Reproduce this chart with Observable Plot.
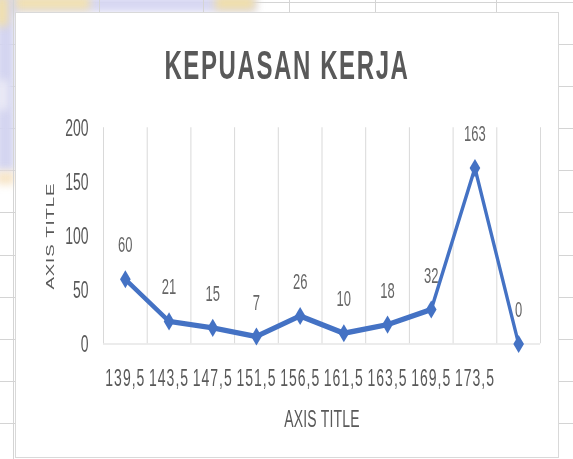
<!DOCTYPE html>
<html><head><meta charset="utf-8">
<script src="https://cdn.jsdelivr.net/npm/d3@7"></script>
<script src="https://cdn.jsdelivr.net/npm/@observablehq/plot@0.6"></script>
<style>
html,body{margin:0;padding:0;width:573px;height:459px;overflow:hidden;background:#fff;}
body{position:relative;}
#sheet{position:absolute;left:0;top:0;width:573px;height:459px;
  background-image:repeating-linear-gradient(to bottom,#d4d4d4 0 1px,transparent 1px 42.1px);
  background-position:0 2px;}
.vl{position:absolute;top:0;width:1px;height:12px;background:#d4d4d4;}
.blob{position:absolute;filter:blur(4px);}
#box{position:absolute;left:15px;top:12px;width:544px;height:446px;border:1px solid #d9d9d9;box-sizing:border-box;background:#fff;}
#title{position:absolute;left:15px;top:45px;width:544px;text-align:center;font-family:'Liberation Sans',Arial,sans-serif;font-weight:bold;font-size:24px;line-height:24px;letter-spacing:1.6px;color:#595959;transform:scaleY(1.69);transform-origin:0 0;white-space:nowrap;}
#chart{position:absolute;left:15px;top:95px;transform:scaleY(1.7);transform-origin:0 0;}
#chart g[aria-label="x-axis tick label"] text{letter-spacing:1px;}
#chart g[aria-label="x-axis label"] text{letter-spacing:0.2px;}
#chart g[aria-label="y-axis label"] text{font-family:'Liberation Sans',Arial,sans-serif;font-size:11px;letter-spacing:0.5px;}
</style></head><body>
<div id="sheet"></div>
<div class="blob" style="left:-4px;top:-4px;width:260px;height:16px;background:#d6d6f2;"></div>
<div class="blob" style="left:10px;top:-4px;width:80px;height:14px;background:#f3e2b0;"></div>
<div class="blob" style="left:215px;top:-4px;width:40px;height:14px;background:#f1dfa8;"></div>
<div class="blob" style="left:-4px;top:-4px;width:19px;height:175px;background:#d3d4f0;"></div>
<div class="blob" style="left:-4px;top:-4px;width:12px;height:30px;background:#f3e0a8;"></div>
<div class="blob" style="left:-4px;top:80px;width:12px;height:30px;background:#ecebf6;"></div>
<div class="blob" style="left:-4px;top:172px;width:19px;height:12px;background:#f6e2c2;"></div>
<div class="vl" style="left:13px;height:459px;"></div>
<div class="vl" style="left:99px"></div>
<div class="vl" style="left:203px"></div>
<div class="vl" style="left:289px"></div>
<div class="vl" style="left:375px"></div>
<div class="vl" style="left:496px"></div>
<div id="box"></div>
<div id="title">KEPUASAN KERJA</div>
<div id="chart"></div>
<script>
const categories = ["139,5","143,5","147,5","151,5","156,5","161,5","163,5","169,5","173,5",""];
const values = [60,21,15,7,26,10,18,32,163,0];
const yTicks = [0,50,100,150,200];
const yTitle = "AXIS TITLE";
const xTitle = "AXIS TITLE";

const data = categories.map((c, i) => ({i, label: c, value: values[i]}));
const boundaries = d3.range(categories.length + 1).map(k => k - 0.5);

const plot = Plot.plot({
  width: 544,
  height: 213,
  marginTop: 19,
  marginBottom: 67,
  marginLeft: 88,
  marginRight: 19,
  style: {fontFamily: "'Liberation Sans Narrow','Liberation Sans',Arial,sans-serif", fontSize: "14px", color: "#595959", background: "transparent", overflow: "visible"},
  x: {domain: [-0.5, categories.length - 0.5]},
  y: {domain: [0, 200]},
  marks: [
    Plot.ruleX(boundaries, {y1: 0, y2: 200, stroke: "#d9d9d9", strokeWidth: 1, strokeOpacity: 1}),
    Plot.ruleY([0], {stroke: "#d9d9d9", strokeWidth: 0.6, strokeOpacity: 1}),
    Plot.axisY({ticks: yTicks, tickSize: 0, tickPadding: 15, label: yTitle, labelAnchor: "center", labelArrow: "none", labelOffset: 57}),
    Plot.axisX({ticks: d3.range(categories.length), tickFormat: i => categories[i], tickSize: 0, tickPadding: 15, label: xTitle, labelAnchor: "center", labelArrow: "none", labelOffset: 49}),
    Plot.line(data, {x: "i", y: "value", stroke: "#4472C4", strokeWidth: 3.2}),
    Plot.dot(data, {x: "i", y: "value", symbol: "diamond2", r: 4.8, fill: "#4472C4", stroke: "none"}),
    Plot.text(data, {x: "i", y: "value", text: d => String(d.value), dy: -20, fill: "#666666", fontSize: 13})
  ]
});
document.getElementById("chart").appendChild(plot);
</script>
</body></html>
